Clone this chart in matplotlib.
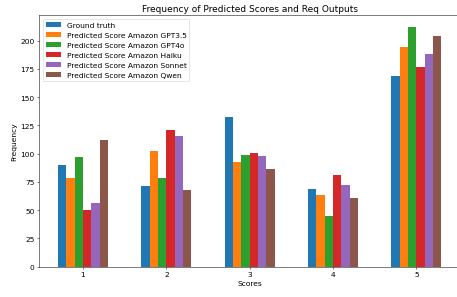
import numpy as np
import matplotlib
matplotlib.use('Agg')
import matplotlib.pyplot as plt

scores = [1, 2, 3, 4, 5]
ground_truth = [90, 71, 132, 69, 169]
gpt35 = [78, 102, 93, 63, 194]
gpt4o = [97, 78, 99, 45, 212]
haiku = [50, 121, 101, 81, 177]
sonnet = [56, 116, 98, 72, 188]
qwen = [112, 68, 86, 61, 204]

labels = ['Ground truth',
          'Predicted Score Amazon GPT3.5',
          'Predicted Score Amazon GPT4o',
          'Predicted Score Amazon Haiku',
          'Predicted Score Amazon Sonnet',
          'Predicted Score Amazon Qwen']

def main():
    plt.rcParams['font.size'] = 11.8
    series = [ground_truth, gpt35, gpt4o, haiku, sonnet, qwen]
    x = np.array(scores, dtype=float)
    width = 0.1

    fig = plt.figure(figsize=(10, 6.52), dpi=45.7)
    ax = fig.add_axes([0.085, 0.102, 0.923, 0.844])
    for i, (vals, lab) in enumerate(zip(series, labels)):
        ax.bar(x + (i - 2.5) * width, vals, width, label=lab, color='C%d' % i)
    ax.set_xticks(x)
    ax.set_xlabel('Scores')
    ax.set_ylabel('Frequency')
    ax.set_title('Frequency of Predicted Scores and Req Outputs')
    ax.legend(loc='upper left')
    fig.savefig('out.png', dpi=45.7)
    plt.close(fig)

if __name__ == '__main__': main()
